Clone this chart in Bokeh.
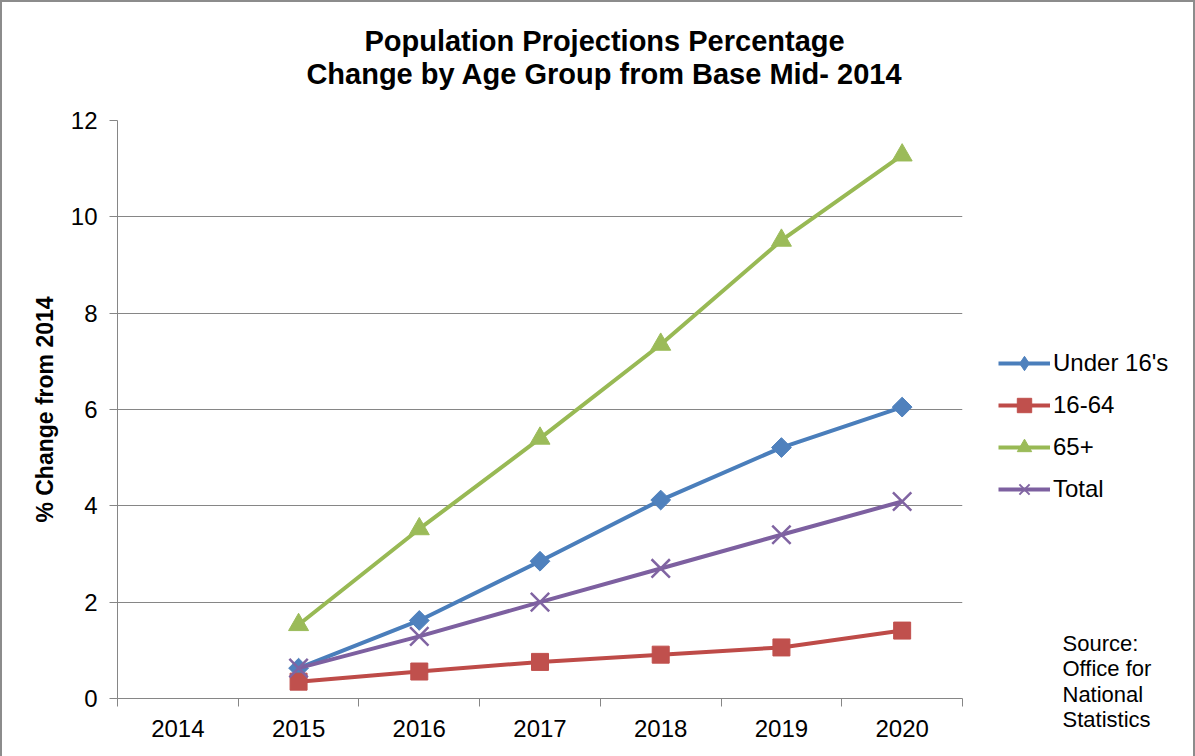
import math
from bokeh.plotting import figure
from bokeh.layouts import column, row
from bokeh.models import (FactorRange, Range1d, LinearAxis, FixedTicker, Legend,
                          LegendItem, Label, Plot)
from bokeh.embed import file_html
from bokeh.resources import INLINE

# ---- data ----
years = ["2014", "2015", "2016", "2017", "2018", "2019", "2020"]
series_years = ["2015", "2016", "2017", "2018", "2019", "2020"]
under16 = [0.63, 1.62, 2.85, 4.12, 5.21, 6.05]
age16_64 = [0.35, 0.56, 0.76, 0.91, 1.06, 1.41]
age65plus = [1.53, 3.52, 5.40, 7.35, 9.51, 11.28]
total = [0.63, 1.29, 2.00, 2.70, 3.40, 4.09]
y_ticks = [0, 2, 4, 6, 8, 10, 12]
series_names = ["Under 16's", "16-64", "65+", "Total"]
title_lines = ["Population Projections Percentage", "Change by Age Group from Base Mid- 2014"]
source_lines = ["Source:", "Office for", "National", "Statistics"]

FONT = "Liberation Sans"
GRID = "#868686"
CAN_UNALIGN = "frame_align" in Plot.properties()


def blank(fig):
    fig.outline_line_color = None
    fig.background_fill_color = "white"
    fig.border_fill_color = "white"
    if CAN_UNALIGN:
        fig.frame_align = False


def strip(w, h, xr, yr):
    f = figure(width=w, height=h, x_range=xr, y_range=yr,
               output_backend="svg", toolbar_location=None,
               x_axis_location=None, y_axis_location=None,
               min_border=0, min_border_left=0, min_border_right=0,
               min_border_top=0, min_border_bottom=0)
    blank(f)
    f.grid.visible = False
    return f


# ---------------- title strip ----------------
t = strip(1191, 103, Range1d(0, 1), Range1d(0, 1))
for i, txt in enumerate(title_lines):
    t.add_layout(Label(x=602, y=65 - 33 * i, x_units="screen", y_units="screen",
                       text=txt, text_align="center", text_baseline="middle",
                       text_font=FONT, text_font_size="29px",
                       text_font_style="bold", text_color="black"))

# ---------------- main chart ----------------
p = figure(width=970, height=651,
           x_range=FactorRange(factors=years, range_padding=0),
           y_range=Range1d(0, 12),
           output_backend="svg", toolbar_location=None,
           x_axis_location=None,
           min_border_left=115, min_border_right=10,
           min_border_top=15, min_border_bottom=58)
p.outline_line_color = None
p.background_fill_color = "white"
p.border_fill_color = "white"

xaxis = LinearAxis(
    ticker=FixedTicker(ticks=[i + 0.5 for i in range(len(years))],
                       minor_ticks=list(range(len(years) + 1))),
    major_label_overrides={i + 0.5: yr for i, yr in enumerate(years)},
)
xaxis.major_tick_out = 0
xaxis.major_tick_in = 0
xaxis.minor_tick_out = 8
xaxis.minor_tick_in = 0
xaxis.minor_tick_line_color = GRID
xaxis.axis_line_color = GRID
xaxis.major_label_text_font = FONT
xaxis.major_label_text_font_size = "24px"
xaxis.major_label_text_color = "black"
xaxis.major_label_standoff = 13
p.add_layout(xaxis, "below")

yaxis = p.yaxis[0]
yaxis.ticker = FixedTicker(ticks=y_ticks)
yaxis.minor_tick_line_color = None
yaxis.major_tick_out = 8
yaxis.major_tick_in = 0
yaxis.major_tick_line_color = GRID
yaxis.axis_line_color = GRID
yaxis.major_label_text_font = FONT
yaxis.major_label_text_font_size = "24px"
yaxis.major_label_text_color = "black"
yaxis.major_label_standoff = 12
yaxis.axis_label = "% Change from 2014"
yaxis.axis_label_text_font = FONT
yaxis.axis_label_text_font_size = "23px"
yaxis.axis_label_text_font_style = "bold"
yaxis.axis_label_text_color = "black"
yaxis.axis_label_standoff = 10

for g in p.xgrid:
    g.visible = False
p.ygrid.grid_line_color = GRID
p.ygrid.grid_line_width = 1

series_vals = [under16, age16_64, age65plus, total]
line_colors = ["#4A7EBB", "#BE4B48", "#98B954", "#7D60A0"]
marker_colors = ["#4F81BD", "#C0504D", "#9BBB59", "#8064A2"]
plot_markers = [("square", 14, math.pi / 4), ("square", 17, 0),
                ("triangle", 20, 0), ("x", 26, 0)]
legend_markers = ["diamond", "square", "triangle", "x"]

for vals, lc, mc, (mk, sz, ang) in zip(series_vals, line_colors, marker_colors, plot_markers):
    p.line(series_years, vals, line_color=lc, line_width=4)
    if mk == "x":
        p.scatter(series_years, vals, marker="x", size=sz, line_color=mc, line_width=2.5)
    else:
        p.scatter(series_years, vals, marker=mk, size=sz, angle=ang,
                  fill_color=mc, line_color=mc, line_width=1)

# ---------------- legend + source strip ----------------
QH = 651
q = strip(221, QH, FactorRange(factors=years, range_padding=0), Range1d(0, 12))

items = []
for name, vals, lc, mc, mk in zip(series_names, series_vals, line_colors,
                                  marker_colors, legend_markers):
    lr = q.line(series_years, vals, line_color=lc, line_width=4, visible=False)
    if mk == "x":
        sr = q.scatter(series_years, vals, marker="x", line_color=mc, line_width=2,
                       visible=False)
    else:
        sr = q.scatter(series_years, vals, marker=mk, fill_color=mc, line_color=mc,
                       visible=False)
    items.append(LegendItem(label=name, renderers=[lr, sr]))

# frame bottom of q (page y): canvas bottom if unaligned, else aligned to p's frame
q_bottom = 756 if CAN_UNALIGN else 698
legend = Legend(items=items, location=(26, q_bottom - 507),
                glyph_width=52, glyph_height=36, label_standoff=3,
                spacing=6, padding=0, margin=0, click_policy="none",
                border_line_color=None, background_fill_alpha=0,
                label_text_font=FONT, label_text_font_size="24px",
                label_text_color="black")
q.add_layout(legend, "center")

source_y = [643, 668, 694, 719]  # page positions of the note's lines
for txt, yy in zip(source_lines, source_y):
    q.add_layout(Label(x=90, y=q_bottom - yy, x_units="screen", y_units="screen",
                       text=txt, text_align="left", text_baseline="middle",
                       text_font=FONT, text_font_size="22px", text_color="black"))

layout = column(t, row(p, q))
layout.styles = {"border-top": "2px solid #8c8c8c",
                 "border-left": "2px solid #8c8c8c",
                 "border-right": "2px solid #8c8c8c",
                 "background-color": "white"}

open("out.html", "w").write(file_html(layout, INLINE))
